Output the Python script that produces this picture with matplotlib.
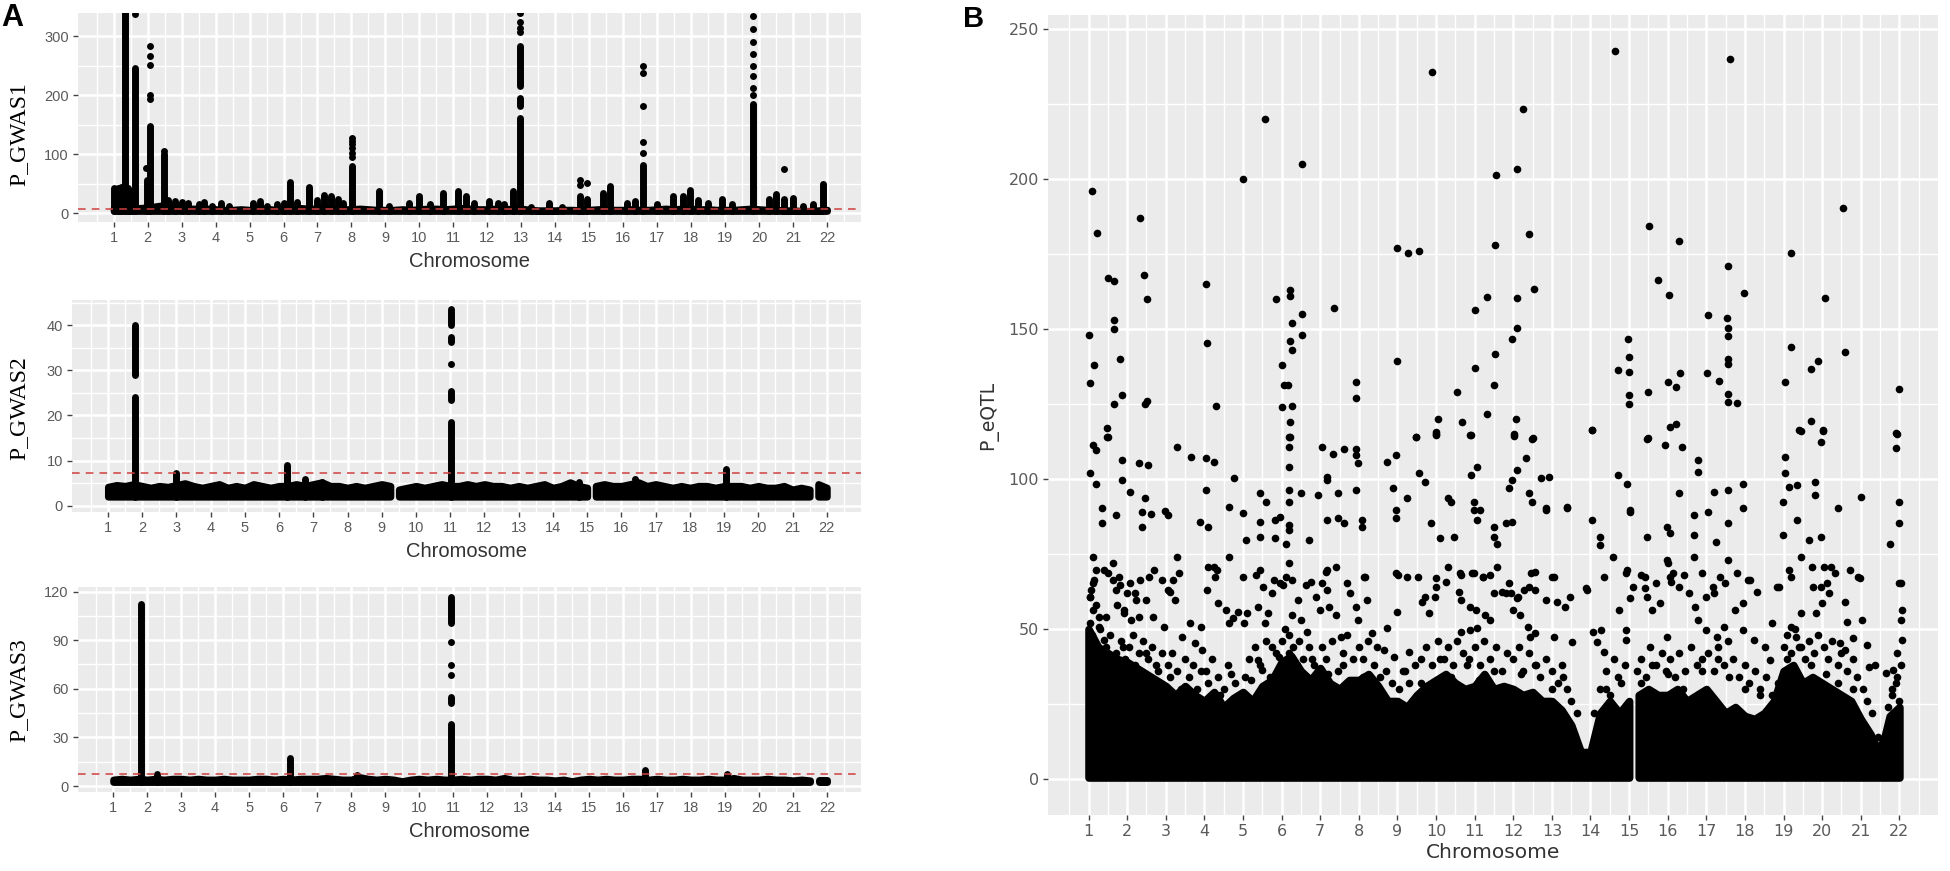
import numpy as np
import matplotlib.pyplot as plt
from matplotlib.collections import LineCollection

chromosomes = list(range(1, 23))
threshold = 7.3  # -log10(5e-8)

# ---------------- A1 : P_GWAS1 ----------------
# band of non significant SNPs, top value every 0.25 chromosome from 1.0 to 22.0
gwas1_band_low = 4
gwas1_band_top = [9, 9, 9, 9, 10, 12, 14, 11, 9, 8, 8, 8, 7, 6, 6, 7, 6, 7, 8, 6,
                  7, 8, 9, 8, 8, 9, 8, 7, 7, 8, 7, 6, 6, 6, 7, 6, 7, 8, 8, 7,
                  8, 9, 8, 7, 7, 8, 8, 7, 8, 6, 5, 5, 5, 6, 6, 5, 6, 7, 7, 6,
                  6, 7, 6, 6, 7, 8, 7, 8, 8, 7, 7, 6, 6, 6, 7, 8, 7, 6, 6, 5,
                  5, 4, 4, 5, 6]
gwas1_band_gaps = []
gwas1_peak_x = [1.02, 1.12, 1.22, 1.42, 1.5, 1.32, 1.62, 1.98, 2.06, 2.47,
                2.6, 2.8, 3.0, 3.2, 3.5, 3.65, 3.9, 4.15, 4.4, 5.1, 5.3, 5.5, 5.8, 6.0,
                6.19, 6.4, 6.76, 7.0, 7.2, 7.4, 7.6, 7.75, 8.03,
                8.82, 9.1, 9.7, 10.0, 10.3, 10.7, 11.13, 11.37, 11.6, 12.06, 12.3, 12.5, 12.75,
                12.95, 13.3, 13.83, 14.2, 14.72, 14.93, 15.4, 15.6, 16.1, 16.34, 16.58,
                17.0, 17.47, 17.75, 17.96, 18.2, 18.5, 18.9, 19.2, 19.82,
                20.3, 20.5, 20.73, 21.0, 21.3, 21.6, 21.87]
gwas1_peak_top = [42, 43, 45, 43, 38, 345, 247, 57, 148, 100,
                  22, 21, 19, 17, 15, 19, 13, 17, 12, 17, 20, 13, 15, 17,
                  53, 19, 45, 23, 31, 29, 25, 17, 80,
                  37, 13, 17, 29, 15, 34, 37, 29, 17, 20, 17, 15, 37,
                  161, 11, 17, 10, 30, 25, 34, 47, 17, 20, 82,
                  15, 29, 29, 40, 23, 17, 25, 15, 185,
                  25, 33, 25, 26, 13, 15, 46]
gwas1_seg_x = [12.95, 12.95]
gwas1_seg_lo = [181, 215]
gwas1_seg_hi = [195, 283]
gwas1_dot_x = [1.62, 1.96, 2.06, 2.06, 2.06, 2.06, 2.06, 2.47,
               8.03, 8.03, 8.03, 8.03, 8.03, 8.03,
               12.95, 12.95, 12.95, 12.95, 14.72, 14.72, 14.93,
               16.58, 16.58, 16.58, 16.58, 16.58,
               19.82, 19.82, 19.82, 19.82, 19.82, 19.82, 19.82, 19.82,
               20.73, 21.87]
gwas1_dot_y = [338, 76, 283, 266, 252, 201, 193, 105,
               96, 103, 110, 117, 122, 127,
               308, 314, 325, 339, 56.5, 48, 52,
               103, 120, 182, 238, 249,
               200, 212, 232, 250, 270, 290, 312, 335,
               74.7, 50]

# ---------------- A2 : P_GWAS2 ----------------
gwas2_band_low = 2.0
gwas2_band_top = [4.2, 4.6, 4.4, 4.8, 4.4, 4.0, 4.4, 4.2, 4.6, 5.0, 4.4, 4.0,
                  4.4, 4.8, 4.0, 4.4, 4.0, 4.8, 4.4, 4.0, 4.4, 4.4, 4.8, 4.4,
                  4.8, 5.2, 4.4, 4.4, 4.0, 4.4, 4.0, 4.4, 4.8, 4.4, 3.6, 4.0,
                  4.4, 4.0, 4.4, 4.8, 4.4, 4.4, 4.8, 4.4, 4.8, 4.4, 4.4, 4.0,
                  4.4, 4.0, 4.4, 4.8, 4.0, 4.4, 5.2, 4.4, 4.0, 4.4, 4.8, 4.4,
                  4.4, 4.8, 5.2, 4.4, 4.8, 4.4, 4.0, 4.4, 4.0, 4.4, 4.4, 4.0,
                  4.4, 4.4, 4.4, 4.0, 4.4, 4.0, 4.0, 4.4, 3.6, 4.0, 3.6, 4.8,
                  4.0]
gwas2_band_gaps = [9.4, 15.2, 21.6]
gwas2_peak_x = [1.79, 3.0, 6.23, 6.77, 7.25, 11.02, 14.75, 19.05]
gwas2_peak_top = [24, 7.2, 9.0, 6.0, 5.3, 18.5, 5.2, 8.2]
gwas2_seg_x = [1.79, 11.02, 11.02, 11.02]
gwas2_seg_lo = [29, 23.5, 36.3, 40]
gwas2_seg_hi = [40, 25.5, 37.5, 43.7]
gwas2_dot_x = [11.02, 16.39]
gwas2_dot_y = [31.5, 6.0]

# ---------------- A3 : P_GWAS3 ----------------
gwas3_band_low = 2.5
gwas3_band_top = [4.0, 4.5, 4.0, 4.5, 4.0, 4.5, 4.0, 4.5, 4.5, 4.0, 4.5, 4.0,
                  4.0, 4.5, 4.0, 4.0, 4.0, 4.5, 4.5, 4.0, 4.5, 4.0, 4.5, 4.5,
                  4.5, 5.0, 4.5, 4.0, 4.0, 5.5, 4.5, 4.0, 4.5, 4.0, 3.0, 4.0,
                  4.5, 4.0, 4.5, 4.0, 4.0, 4.5, 4.0, 4.5, 4.5, 4.0, 5.0, 4.0,
                  4.0, 4.5, 4.0, 4.0, 3.5, 4.0, 3.0, 4.0, 4.5, 4.0, 4.5, 4.0,
                  4.0, 4.5, 4.5, 4.0, 4.5, 4.0, 4.0, 4.5, 4.0, 4.0, 4.5, 4.0,
                  4.0, 5.0, 4.0, 4.0, 4.0, 4.5, 4.0, 4.0, 3.5, 4.0, 3.5, 3.5,
                  3.5]
gwas3_band_gaps = [21.6]
gwas3_peak_x = [1.82, 2.3, 6.21, 8.16, 10.93, 16.65, 19.05]
gwas3_peak_top = [112.5, 7.6, 17, 6.5, 38.5, 10, 7.5]
gwas3_seg_x = [10.93, 10.93]
gwas3_seg_lo = [51, 100.4]
gwas3_seg_hi = [55, 116.5]
gwas3_dot_x = [10.93, 10.93, 10.93]
gwas3_dot_y = [68.4, 74.6, 89]

# ---------------- B : P_eQTL ----------------
eqtl_core_low = 0.5
eqtl_core_top = [50, 44, 42, 40, 39, 37, 35, 33, 31, 28, 31, 28, 26, 29, 24, 27,
                 29, 26, 31, 33, 39, 41, 36, 33, 37, 32, 30, 33, 33, 35, 31, 26,
                 26, 24, 28, 31, 33, 35, 32, 30, 31, 35, 30, 31, 30, 28, 29, 26,
                 26, 23, 18, 9, 9, 22, 26, 22, 26, 28, 30, 28, 28, 30, 26, 28,
                 30, 26, 22, 24, 21, 20, 22, 26, 36, 38, 32, 34, 32, 30, 28, 26,
                 20, 15, 8, 21, 24]
eqtl_core_gaps = [15.12]

eqtl_high = [(1.10, 196), (1.21, 182), (1.01, 148), (1.15, 138), (1.05, 132), (1.50, 167),
             (1.67, 166), (1.67, 153), (1.67, 150), (1.82, 140), (1.86, 128), (1.67, 125),
             (1.47, 117), (1.50, 114), (2.34, 187), (2.43, 168), (2.51, 160), (2.51, 126),
             (2.47, 125), (4.04, 165), (4.07, 145.5), (4.31, 124.5), (5.01, 200), (5.58, 220),
             (6.52, 205), (5.86, 160), (6.21, 163), (6.21, 161), (6.52, 155), (6.26, 152),
             (6.52, 148), (6.21, 146), (6.26, 143), (6.01, 138), (6.07, 131.5), (6.17, 131.5),
             (6.01, 124), (6.26, 124.5), (6.21, 119), (6.21, 114), (7.37, 157), (7.93, 132.5),
             (7.93, 127),
             (9.89, 235.8), (14.64, 242.7), (17.62, 240.1), (12.26, 223.3), (11.56, 201.4),
             (12.09, 203.3), (20.55, 190.4), (15.52, 184.4), (16.29, 179.4), (12.41, 181.8),
             (11.53, 178.1), (8.98, 176.9), (9.28, 175.5), (9.56, 176), (19.19, 175.5),
             (17.57, 171), (15.75, 166.4), (17.97, 162.1), (12.54, 163.4), (16.04, 161.2),
             (11.32, 160.8), (12.09, 160.2), (20.07, 160.3), (11.01, 156.5), (17.05, 154.8),
             (17.53, 153.8), (17.57, 150.3), (17.57, 147.6), (12.09, 150.2), (11.98, 146.6),
             (14.96, 146.6), (19.19, 144.1), (20.6, 142.4), (11.53, 141.6), (8.98, 139.2),
             (15.0, 140.6), (17.57, 140), (17.55, 138.4), (19.89, 139.2), (11.01, 137),
             (19.71, 136.7), (14.71, 136.3), (15.0, 135.8), (16.33, 135.3), (17.02, 135.3),
             (17.34, 132.7), (16.0, 132.2), (16.21, 130.8), (19.03, 132.2), (10.55, 128.9),
             (11.49, 131.3), (15.49, 129.1), (15.0, 128.1), (15.0, 125), (17.57, 128.2),
             (17.57, 125.8), (17.79, 125.5), (21.98, 129.9), (10.04, 120), (10.68, 119),
             (11.32, 121.8), (12.06, 120), (19.71, 119.5), (10.0, 115.7), (10.0, 114.7),
             (9.47, 114.1), (10.88, 114.6), (12.03, 115), (12.51, 113.8), (14.03, 116.2),
             (15.48, 113.8), (16.06, 117.2), (16.21, 118.4), (19.4, 116.2), (20.03, 116.2),
             (21.93, 115)]

eqtl_mid = [(1.48, 114), (1.11, 111.3), (1.19, 109.7), (6.2, 114), (6.2, 110.8), (7.05, 110.8),
            (7.32, 108.5), (7.62, 110), (7.92, 110), (7.92, 108), (9.49, 114), (10.0, 115),
            (10.9, 114.7), (12.03, 114.5), (12.48, 113.5), (14.05, 116.3), (15.47, 113.5),
            (15.92, 111.3), (16.37, 110.8), (19.44, 116), (20.03, 116), (19.96, 112.4),
            (21.9, 115.2), (21.9, 110.2),
            (1.86, 106.3), (2.31, 105.2), (2.53, 104.7), (3.28, 110.8), (3.66, 107.4),
            (4.03, 106.9), (4.25, 105.8), (6.2, 104.1), (7.17, 100.8), (7.17, 99.7),
            (7.99, 105.2), (8.74, 105.8), (8.97, 108), (9.56, 101.9), (9.71, 99.1),
            (10.91, 101.3), (11.06, 104.1), (12.1, 103), (12.33, 106.9), (12.71, 100.2),
            (12.93, 100.8), (16.79, 106.3), (16.79, 102.4), (19.03, 107.4), (19.03, 101.9),
            (14.72, 101.3), (14.95, 98.5),
            (1.04, 101.9), (1.19, 98.5), (1.86, 99.7), (2.08, 95.8), (2.46, 93.6), (4.03, 96.3),
            (4.78, 100.2), (5.45, 95.2), (5.6, 92.4), (6.2, 96.3), (6.2, 92.4), (6.5, 95.2),
            (6.95, 94.7), (7.47, 95.2), (7.92, 96.3), (8.89, 96.9), (9.26, 93.6), (10.31, 93.6),
            (10.39, 92.4), (10.99, 92.4), (11.13, 89.7), (11.88, 96.9), (11.96, 99.7),
            (12.41, 95.2), (12.48, 92.4), (12.86, 90.2), (13.38, 90.8), (15.02, 89.7),
            (16.29, 95.2), (17.2, 95.8), (17.57, 96.3), (17.94, 98.5), (19.14, 97.4),
            (19.36, 98), (19.81, 99.1), (19.81, 94.7), (21.0, 94.1), (21.98, 92.4), (18.99, 92.4),
            (1.34, 90.2), (1.34, 85.2), (1.71, 88), (2.38, 89), (2.61, 88.5), (2.98, 89.5),
            (3.06, 88), (2.38, 84.1), (3.88, 85.8), (4.1, 84.1), (4.63, 90.8), (5.0, 88.6),
            (5.45, 85.8), (5.82, 86.3), (5.97, 87.4), (6.2, 84.7), (6.2, 83), (5.45, 80.8),
            (5.08, 79.7), (5.82, 80.2), (6.12, 78.5), (6.72, 79.7), (7.17, 86.3), (7.47, 86.9),
            (7.62, 85.2), (8.07, 86.3), (8.07, 84.1), (8.97, 89.7), (8.97, 86.9), (9.86, 85.2),
            (10.09, 80.2), (10.46, 80.8), (10.99, 89.7), (11.06, 86.3), (11.51, 84.1),
            (11.51, 80.8), (11.58, 78.5), (11.81, 85.2), (11.96, 85.8), (12.86, 89.7),
            (13.38, 90.2), (14.05, 86.3), (14.24, 80.8), (14.24, 78), (15.02, 89.1),
            (15.47, 80.8), (15.99, 84.1), (16.07, 81.9), (16.67, 88), (16.67, 81.3),
            (17.04, 89.1), (17.24, 79.1), (17.57, 85.2), (17.94, 90.2), (18.99, 81.3),
            (19.36, 86.3), (19.66, 79.7), (19.96, 80.8), (20.41, 90.2), (21.75, 78.5),
            (21.98, 85.2)]

eqtl_low = [(1.11, 74.1), (1.19, 69.7), (1.11, 65.2), (1.04, 60.8), (1.11, 56.3), (1.26, 54.1),
            (1.63, 71.9), (1.78, 67.4), (1.71, 63), (2.08, 65.2), (2.23, 59.7), (1.93, 56.3),
            (2.31, 54.1), (2.91, 66.3), (3.06, 63), (3.28, 74.1), (4.1, 70.8), (4.25, 70.8),
            (4.63, 74.1), (5.0, 67.4), (5.45, 69.7), (5.52, 64.1), (5.75, 61.9), (5.97, 65.2),
            (6.27, 66.3), (6.2, 71.9), (6.42, 59.7), (7.17, 69.7), (7.17, 63), (7.69, 65.2),
            (8.14, 67.4), (8.96, 68.6), (9.26, 67.4), (9.71, 60.8), (10.01, 64.1), (10.31, 70.8),
            (10.61, 68.6), (10.99, 68.6), (11.21, 67.4), (11.58, 70.8), (11.81, 61.9),
            (11.88, 65.2), (12.11, 60.8), (12.4, 64.1), (12.55, 63), (13.0, 67.4), (13.9, 63),
            (14.35, 67.4), (14.57, 74.1), (14.95, 69.7), (15.1, 64.1), (15.4, 67.4), (15.7, 65.2),
            (16.0, 71.9), (16.07, 67.4), (16.29, 64.1), (16.67, 74.1), (16.89, 68.6),
            (17.19, 61.9), (17.49, 65.2), (17.79, 68.6), (18.09, 66.3), (18.84, 64.1),
            (19.14, 69.7), (19.44, 74.1), (19.74, 70.8), (19.96, 64.1), (20.18, 61.9),
            (20.71, 69.7), (20.93, 67.4), (21.98, 65.2),
            (1.07, 63), (1.03, 60.8), (1.14, 66.3), (1.2, 58), (1.4, 69.7), (1.5, 68.6),
            (1.64, 66.3), (1.82, 64.7), (2.0, 61.9), (1.73, 58), (1.92, 55.2), (2.1, 53),
            (1.46, 54), (1.27, 50.8), (1.41, 46.3), (2.2, 61.9), (2.34, 66.3), (2.57, 67.4),
            (2.7, 69.7), (2.48, 59.7), (2.66, 54.1), (2.95, 50.8), (3.1, 62.4), (3.23, 59.7),
            (3.2, 66.3), (3.33, 68.6), (3.43, 47.4), (3.62, 51.9), (3.76, 45.2), (3.9, 50.8),
            (3.95, 43), (4.08, 63), (4.27, 67.4), (4.32, 69.7), (4.36, 58.6), (4.55, 56.3),
            (4.64, 51.9), (4.74, 53.6), (4.87, 55.8), (5.02, 51.9), (5.11, 55.2), (5.39, 39.7),
            (5.48, 36.3), (5.34, 68), (5.39, 57.4), (5.57, 51.9), (5.66, 55.2), (5.8, 66.3),
            (6.03, 64.7), (6.12, 67.4), (5.75, 44.1), (5.94, 40.8), (6.26, 54.7), (6.49, 53),
            (6.67, 49.1), (6.63, 64.7), (6.77, 65.8), (6.9, 60.8), (7.04, 65.2), (7.0, 56.3),
            (7.23, 57.4), (7.41, 54.7), (7.55, 47.4), (7.14, 69.1), (7.41, 70.8), (7.78, 61.9),
            (7.92, 57.4), (8.16, 67.4), (8.2, 59.7), (7.97, 53), (8.34, 48.6), (8.48, 44.1),
            (9.01, 68), (8.73, 50.2), (9.0, 55.8), (8.64, 43), (8.92, 40.8), (9.3, 42.4),
            (9.53, 67.4), (9.63, 59.1), (9.82, 55.2), (9.97, 60.8), (10.01, 66.9), (10.26, 65.8),
            (10.64, 68), (10.93, 68.6), (11.22, 67.4), (11.41, 68), (10.6, 62.4), (10.64, 59.7),
            (10.88, 57.4), (11.03, 56.3), (11.27, 54.7), (11.41, 53), (10.64, 49.1),
            (10.88, 49.7), (11.07, 50.2), (11.5, 61.9), (11.7, 62.4), (11.94, 61.9),
            (12.09, 60.2), (12.28, 63), (12.47, 68.6), (12.57, 69.1), (11.99, 56.3),
            (12.18, 54.7), (12.38, 50.8), (12.43, 47.4), (12.57, 48.6), (12.86, 59.7),
            (13.05, 67.4), (13.14, 59.1), (13.34, 57.4), (13.48, 60.8), (13.05, 47.4),
            (13.53, 45.8), (13.88, 63.6), (14.07, 49.1), (14.17, 45.8), (14.26, 49.7),
            (14.36, 42.4), (14.74, 56.3), (14.93, 46.3), (14.93, 49.7), (15.03, 60.2),
            (14.93, 68.6), (15.31, 68), (15.41, 63.6), (15.46, 60.8), (15.6, 56.3),
            (15.79, 58.6), (15.99, 47.4), (15.99, 73), (16.08, 65.8), (16.13, 68.6),
            (16.42, 68), (16.56, 61.9), (16.7, 57.4), (16.79, 53), (16.98, 60.8), (17.17, 64.1),
            (17.36, 67.4), (17.56, 73), (16.98, 49.7), (17.27, 47.4), (17.46, 50.8),
            (17.75, 56.3), (17.94, 58.6), (18.13, 66.3), (17.94, 49.7), (18.23, 46.3),
            (18.52, 44.1), (18.66, 39.7), (18.32, 62.4), (18.7, 51.9), (18.89, 64.1),
            (19.18, 67.4), (19.18, 50.8), (19.32, 47.4), (19.46, 55.2), (19.75, 64.1),
            (19.85, 55.2), (19.99, 58.6), (20.04, 70.8), (20.23, 70.8), (20.32, 68.6),
            (20.13, 65.2), (20.6, 59.1), (20.65, 52.4), (20.46, 45.2), (20.6, 43), (20.79, 46.9),
            (20.98, 66.9), (21.03, 53), (21.17, 44.7), (21.22, 37.4), (21.36, 38), (21.65, 35.2),
            (22.03, 65.2), (22.08, 56.3), (22.03, 53), (22.08, 46.3), (21.94, 41.9), (21.84, 36.3)]

eqtl_base = [(1.3, 42), (1.6, 40), (1.9, 44), (2.2, 38), (2.5, 42), (2.8, 36), (3.1, 34),
             (3.4, 30), (3.7, 38), (4.1, 32), (4.4, 28), (4.7, 35), (5.2, 33), (5.6, 30),
             (5.9, 36), (6.2, 42), (6.4, 38), (6.8, 40), (7.2, 35), (7.6, 38), (8.1, 34),
             (8.4, 32), (9.2, 36), (9.6, 32), (10.1, 40), (10.4, 34), (10.8, 38), (11.1, 33),
             (11.5, 36), (11.8, 30), (12.2, 35), (12.6, 38), (13.0, 30), (13.3, 34), (14.4, 30),
             (14.7, 34), (15.3, 32), (15.6, 38), (16.0, 35), (16.4, 30), (16.9, 36), (17.3, 40),
             (17.6, 34), (18.0, 30), (18.4, 28), (19.1, 40), (19.4, 44), (19.7, 38), (20.1, 35),
             (20.4, 32), (20.8, 30), (21.8, 30), (21.95, 34)]

eqtl_dense = [(1.05, 52), (1.1, 48), (1.2, 45), (1.3, 50), (1.45, 44), (1.55, 48), (1.7, 42),
              (1.85, 46), (1.95, 40), (2.05, 44), (2.15, 48), (2.3, 42), (2.4, 46), (2.55, 40),
              (2.65, 44), (2.75, 38), (2.9, 42), (3.05, 38), (3.15, 42), (3.3, 36), (3.5, 40),
              (3.6, 34), (3.8, 30), (3.9, 36), (4.05, 36), (4.2, 40), (4.35, 34), (4.5, 30),
              (4.6, 38), (4.8, 32), (4.9, 28), (5.05, 34), (5.15, 40), (5.3, 44), (5.45, 38),
              (5.6, 46), (5.7, 34), (5.85, 42), (6.0, 46), (6.1, 50), (6.2, 48), (6.3, 44),
              (6.45, 46), (6.55, 40), (6.7, 44), (6.85, 38), (7.05, 44), (7.15, 40), (7.3, 46),
              (7.45, 36), (7.6, 42), (7.7, 48), (7.85, 40), (8.0, 44), (8.1, 40), (8.25, 46),
              (8.4, 38), (8.55, 34), (8.7, 36), (8.85, 32), (9.05, 30), (9.15, 36), (9.3, 32),
              (9.45, 38), (9.6, 40), (9.75, 44), (9.9, 38), (10.05, 46), (10.2, 40), (10.3, 44),
              (10.45, 38), (10.55, 46), (10.7, 42), (10.85, 40), (11.0, 44), (11.15, 38),
              (11.25, 46), (11.4, 40), (11.55, 44), (11.7, 36), (11.85, 42), (12.0, 40),
              (12.15, 44), (12.25, 36), (12.4, 42), (12.55, 38), (12.7, 34), (12.85, 40),
              (13.0, 36), (13.15, 32), (13.25, 38), (13.4, 30), (13.5, 26), (13.65, 22),
              (14.1, 22), (14.25, 30), (14.4, 36), (14.5, 28), (14.6, 40), (14.8, 32), (14.9, 38),
              (15.2, 36), (15.3, 40), (15.45, 34), (15.55, 44), (15.7, 38), (15.85, 42),
              (15.95, 36), (16.05, 40), (16.2, 34), (16.3, 42), (16.45, 36), (16.6, 44),
              (16.75, 38), (16.9, 40), (17.05, 42), (17.2, 36), (17.3, 44), (17.45, 38),
              (17.55, 46), (17.7, 40), (17.85, 34), (18.0, 38), (18.1, 32), (18.25, 36),
              (18.4, 30), (18.55, 34), (18.7, 28), (18.85, 32), (19.0, 44), (19.1, 48),
              (19.2, 42), (19.3, 50), (19.45, 44), (19.55, 40), (19.65, 46), (19.8, 42),
              (19.9, 48), (20.05, 44), (20.15, 40), (20.25, 46), (20.4, 38), (20.5, 42),
              (20.65, 36), (20.8, 40), (20.9, 34), (21.05, 30), (21.15, 26), (21.3, 22),
              (21.45, 14), (21.55, 12), (21.7, 24), (21.8, 28), (21.9, 32), (22.0, 26),
              (22.05, 38)]


def split_band(top, gaps):
    x = 1 + 0.25 * np.arange(len(top))
    y = np.asarray(top, dtype=float)
    edges = [-np.inf] + list(gaps) + [np.inf]
    pieces = []
    for a, b in zip(edges[:-1], edges[1:]):
        m = (x > a) & (x < b)
        pieces.append((x[m], y[m]))
    return pieces


def gg_panel(ax, ylim, yticks, yminor, fs, fam):
    ax.set_facecolor('#EBEBEB')
    ax.set_xlim(-0.05, 23.0)
    ax.set_ylim(*ylim)
    ax.set_xticks(chromosomes)
    ax.set_xticks(np.arange(0.5, 23.0, 1.0), minor=True)
    ax.set_yticks(yticks)
    ax.set_yticks(yminor, minor=True)
    ax.grid(which='major', color='white', linewidth=1.8)
    ax.grid(which='minor', color='white', linewidth=1.0)
    ax.set_axisbelow(True)
    for s in ax.spines.values():
        s.set_visible(False)
    ax.tick_params(which='major', length=3.5, width=1.0, color='#444444',
                   labelcolor='#5a5a5a', labelsize=fs, pad=3)
    ax.tick_params(which='minor', length=0)
    for lab in ax.get_xticklabels() + ax.get_yticklabels():
        lab.set_family(fam)


def manhattan(ax, low, top, gaps, px, ptop, sx, slo, shi, dx, dy, d):
    for x, y in split_band(top, gaps):
        ax.fill_between(x, low, y, facecolor='black', edgecolor='black',
                        linewidth=d, joinstyle='round', zorder=2)
    segs = [[(x, low), (x, t)] for x, t in zip(px, ptop)]
    segs += [[(x, a), (x, b)] for x, a, b in zip(sx, slo, shi)]
    ax.add_collection(LineCollection(segs, colors='black', linewidths=d,
                                     capstyle='round', zorder=2))
    ax.scatter(dx, dy, s=d ** 2, c='black', linewidths=0, zorder=2)
    ax.axhline(threshold, color='#d04040', linewidth=1.1, linestyle=(0, (5, 4)), zorder=3)


W, H = 1950, 871
fig = plt.figure(figsize=(W / 100, H / 100), dpi=100)


def rect(l, r, t, b):
    return [l / W, 1 - b / H, (r - l) / W, (b - t) / H]


afont = 'Liberation Sans'
ax1 = fig.add_axes(rect(78, 861, 13, 222))
ax2 = fig.add_axes(rect(72, 861, 300, 512))
ax3 = fig.add_axes(rect(77.5, 861, 587, 792))
axb = fig.add_axes(rect(1048, 1938, 15, 815))

gg_panel(ax1, (-14.8, 339.5), [0, 100, 200, 300], [50, 150, 250], 10.5, afont)
gg_panel(ax2, (-1.4, 45.6), [0, 10, 20, 30, 40], [5, 15, 25, 35, 45], 10.5, afont)
gg_panel(ax3, (-3.7, 122.8), [0, 30, 60, 90, 120], [15, 45, 75, 105], 10.5, afont)
gg_panel(axb, (-12, 254.7), [0, 50, 100, 150, 200, 250], [25, 75, 125, 175, 225], 11.5,
         'DejaVu Sans')

dA = 5.0
manhattan(ax1, gwas1_band_low, gwas1_band_top, gwas1_band_gaps, gwas1_peak_x, gwas1_peak_top,
          gwas1_seg_x, gwas1_seg_lo, gwas1_seg_hi, gwas1_dot_x, gwas1_dot_y, dA)
manhattan(ax2, gwas2_band_low, gwas2_band_top, gwas2_band_gaps, gwas2_peak_x, gwas2_peak_top,
          gwas2_seg_x, gwas2_seg_lo, gwas2_seg_hi, gwas2_dot_x, gwas2_dot_y, dA)
manhattan(ax3, gwas3_band_low, gwas3_band_top, gwas3_band_gaps, gwas3_peak_x, gwas3_peak_top,
          gwas3_seg_x, gwas3_seg_lo, gwas3_seg_hi, gwas3_dot_x, gwas3_dot_y, dA)

# panel B
dB = 5.5
for x, y in split_band(eqtl_core_top, eqtl_core_gaps):
    axb.fill_between(x, eqtl_core_low, y, facecolor='black', edgecolor='black',
                     linewidth=dB, joinstyle='round', zorder=2)
pts = np.array(eqtl_high + eqtl_mid + eqtl_low + eqtl_base + eqtl_dense)
axb.scatter(pts[:, 0], pts[:, 1], s=dB ** 2, c='black', linewidths=0, zorder=2)

for ax in (ax1, ax2, ax3):
    ax.set_xlabel('Chromosome', family=afont, fontsize=14.5, color='#333333', labelpad=5)
axb.set_xlabel('Chromosome', family='DejaVu Sans', fontsize=14.5, color='#333333', labelpad=3)

for label, yc in (('P_GWAS1', 134), ('P_GWAS2', 408), ('P_GWAS3', 690)):
    fig.text(19 / W, 1 - yc / H, label, rotation=90, ha='center', va='center',
             family='Liberation Serif', fontsize=17, color='black')
fig.text(989 / W, 1 - 415 / H, 'P_eQTL', rotation=90, ha='center', va='center',
         family='DejaVu Sans', fontsize=13.5, color='#333333')

fig.text(1 / W, 1 - 3 / H, 'A', ha='left', va='top', family='Liberation Sans',
         fontsize=22, fontweight='bold')
fig.text(963 / W, 1 - 5 / H, 'B', ha='left', va='top', family='Liberation Sans',
         fontsize=21, fontweight='bold')

fig.savefig('out.png', dpi=100, facecolor='white')
